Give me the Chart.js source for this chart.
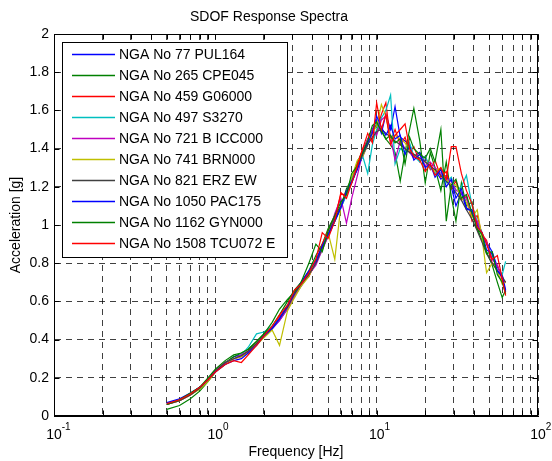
<!DOCTYPE html>
<html>
<head>
<meta charset="utf-8">
<script src="https://cdn.jsdelivr.net/npm/chart.js@4/dist/chart.umd.min.js"></script>
<style>
  html, body { margin: 0; padding: 0; background: #fff; }
</style>
</head>
<body>
<canvas id="spectra" width="552" height="461"></canvas>
<script>
  // Frequencies [Hz] at which each spectrum was sampled
  var freqHz = [
    0.5, 0.6, 0.7, 0.8, 0.9, 1.0, 1.15, 1.3,
    1.45, 1.6, 1.8, 2.0, 2.25, 2.5, 2.8, 3.1,
    3.4, 3.8, 4.2, 4.6, 5.0, 5.5, 6.0, 6.5,
    7.0, 7.6, 8.2, 8.8, 9.4, 10, 10.7, 11.4,
    12.2, 13, 14, 15, 16, 17, 18.5, 20,
    21.5, 23, 25, 27, 29, 31, 33.5, 36,
    39, 42, 45, 48, 52, 56, 60, 63
  ];

  var seriesNames = [
    "NGA No 77 PUL164", "NGA No 265 CPE045", "NGA No 459 G06000", "NGA No 497 S3270",
    "NGA No 721 B ICC000", "NGA No 741 BRN000", "NGA No 821 ERZ EW", "NGA No 1050 PAC175",
    "NGA No 1162 GYN000", "NGA No 1508 TCU072 E"
  ];

  // matlab default colour order
  var seriesColors = ["#0000ff", "#008000", "#ff0000", "#00bfbf", "#bf00bf",
                      "#bfbf00", "#404040", "#0000ff", "#008000", "#ff0000"];

  // spectral acceleration [g]
  var nga77 = [
    0.065, 0.085, 0.115, 0.15, 0.19, 0.235, 0.275, 0.31,
    0.32, 0.335, 0.375, 0.415, 0.455, 0.50, 0.56, 0.63,
    0.69, 0.75, 0.82, 0.88, 0.94, 1.02, 1.09, 1.16,
    1.22, 1.30, 1.36, 1.42, 1.50, 1.55, 1.48, 1.58,
    1.50, 1.62, 1.46, 1.44, 1.42, 1.36, 1.38, 1.33,
    1.30, 1.29, 1.24, 1.26, 1.20, 1.10, 1.17, 1.08,
    1.08, 1.01, 0.95, 0.91, 0.86, 0.78, 0.74, 0.66
  ];
  var nga265 = [
    0.035, 0.055, 0.09, 0.13, 0.18, 0.23, 0.28, 0.31,
    0.33, 0.35, 0.39, 0.43, 0.47, 0.53, 0.60, 0.66,
    0.70, 0.76, 0.84, 0.90, 0.98, 1.05, 1.10, 1.19,
    1.24, 1.33, 1.39, 1.45, 1.48, 1.53, 1.50, 1.45,
    1.42, 1.38, 1.23, 1.38, 1.50, 1.61, 1.44, 1.22,
    1.38, 1.30, 1.18, 1.33, 1.15, 1.02, 1.22, 1.10,
    1.12, 0.98, 0.92, 0.86, 0.79, 0.70, 0.62, 0.66
  ];
  var nga459 = [
    0.06, 0.08, 0.11, 0.145, 0.19, 0.24, 0.28, 0.30,
    0.31, 0.34, 0.38, 0.42, 0.47, 0.52, 0.57, 0.64,
    0.70, 0.73, 0.81, 0.90, 0.97, 1.04, 1.16, 1.16,
    1.23, 1.32, 1.40, 1.44, 1.45, 1.49, 1.58, 1.64,
    1.44, 1.50, 1.42, 1.46, 1.38, 1.41, 1.33, 1.36,
    1.29, 1.34, 1.25, 1.28, 1.19, 1.23, 1.13, 1.15,
    1.02, 1.05, 0.95, 0.92, 0.80, 0.79, 0.71, 0.70
  ];
  var nga497 = [
    0.065, 0.085, 0.115, 0.15, 0.19, 0.235, 0.28, 0.30,
    0.32, 0.36, 0.43, 0.44, 0.47, 0.51, 0.56, 0.63,
    0.68, 0.74, 0.80, 0.87, 0.95, 1.02, 1.09, 1.16,
    1.24, 1.30, 1.36, 1.27, 1.42, 1.50, 1.56, 1.60,
    1.68, 1.32, 1.40, 1.38, 1.43, 1.36, 1.33, 1.36,
    1.30, 1.27, 1.29, 1.22, 1.25, 1.18, 1.20, 1.26,
    1.10, 1.02, 0.96, 0.90, 0.84, 0.76, 0.74, 0.81
  ];
  var nga721 = [
    0.06, 0.08, 0.11, 0.145, 0.19, 0.235, 0.28, 0.30,
    0.32, 0.34, 0.37, 0.42, 0.46, 0.50, 0.56, 0.63,
    0.68, 0.74, 0.79, 0.87, 0.94, 1.06, 1.14, 1.01,
    1.14, 1.26, 1.38, 1.45, 1.50, 1.47, 1.55, 1.57,
    1.46, 1.34, 1.44, 1.40, 1.38, 1.35, 1.37, 1.31,
    1.33, 1.30, 1.27, 1.24, 1.23, 1.18, 1.17, 1.14,
    1.05, 1.02, 0.95, 0.91, 0.82, 0.79, 0.72, 0.70
  ];
  var nga741 = [
    0.06, 0.08, 0.11, 0.14, 0.18, 0.23, 0.27, 0.30,
    0.31, 0.33, 0.37, 0.41, 0.45, 0.37, 0.55, 0.62,
    0.68, 0.73, 0.82, 0.87, 0.96, 0.82, 1.10, 1.17,
    1.25, 1.34, 1.36, 1.42, 1.48, 1.52, 1.63, 1.57,
    1.45, 1.47, 1.45, 1.43, 1.39, 1.37, 1.35, 1.33,
    1.31, 1.28, 1.30, 1.24, 1.21, 1.21, 1.14, 1.12,
    1.04, 1.08, 0.93, 0.75, 0.80, 0.76, 0.69, 0.70
  ];
  var nga821 = [
    0.06, 0.08, 0.11, 0.145, 0.19, 0.235, 0.28, 0.30,
    0.315, 0.34, 0.38, 0.42, 0.46, 0.51, 0.57, 0.64,
    0.69, 0.74, 0.80, 0.88, 0.95, 1.03, 1.10, 1.17,
    1.22, 1.30, 1.37, 1.42, 1.46, 1.49, 1.50, 1.48,
    1.46, 1.44, 1.42, 1.40, 1.38, 1.37, 1.35, 1.33,
    1.31, 1.29, 1.26, 1.23, 1.20, 1.17, 1.13, 1.08,
    1.03, 0.97, 0.91, 0.85, 0.80, 0.76, 0.73, 0.70
  ];
  var nga1050 = [
    0.07, 0.09, 0.12, 0.15, 0.19, 0.23, 0.27, 0.29,
    0.30, 0.33, 0.37, 0.42, 0.46, 0.51, 0.58, 0.65,
    0.70, 0.76, 0.81, 0.89, 0.95, 1.02, 1.09, 1.18,
    1.23, 1.29, 1.38, 1.43, 1.48, 1.57, 1.51, 1.47,
    1.52, 1.45, 1.47, 1.37, 1.41, 1.34, 1.37, 1.30,
    1.32, 1.25, 1.29, 1.20, 1.24, 1.14, 1.19, 1.09,
    1.07, 0.99, 0.96, 0.87, 0.85, 0.76, 0.73, 0.65
  ];
  var nga1162 = [
    0.06, 0.085, 0.12, 0.15, 0.20, 0.245, 0.29, 0.32,
    0.33, 0.35, 0.39, 0.43, 0.49, 0.56, 0.61, 0.65,
    0.70, 0.80, 0.90, 0.86, 0.97, 1.05, 1.12, 1.16,
    1.27, 1.31, 1.38, 1.44, 1.52, 1.54, 1.49, 1.45,
    1.47, 1.43, 1.45, 1.32, 1.46, 1.40, 1.37, 1.35,
    1.40, 1.33, 1.50, 1.02, 1.21, 1.24, 1.14, 1.16,
    1.06, 0.98, 0.95, 0.85, 0.86, 0.74, 0.70, 0.64
  ];
  var nga1508 = [
    0.065, 0.085, 0.115, 0.15, 0.19, 0.23, 0.27, 0.29,
    0.28, 0.32, 0.37, 0.42, 0.47, 0.53, 0.58, 0.66,
    0.69, 0.75, 0.82, 0.96, 0.93, 1.02, 1.17, 1.14,
    1.22, 1.31, 1.40, 1.48, 1.43, 1.64, 1.50, 1.58,
    1.42, 1.47, 1.50, 1.53, 1.40, 1.36, 1.34, 1.28,
    1.32, 1.26, 1.30, 1.24, 1.41, 1.41, 1.27, 1.18,
    1.11, 0.99, 0.96, 0.90, 0.82, 0.84, 0.72, 0.63
  ];

  var seriesValues = [nga77, nga265, nga459, nga497, nga721, nga741, nga821, nga1050, nga1162, nga1508];

  // x grid / tick positions (log axis) and decade labels
  var xTickValues = [
    0.1, 0.2, 0.3, 0.4, 0.5, 0.6, 0.7, 0.8, 0.9,
    1, 2, 3, 4, 5, 6, 7, 8, 9,
    10, 20, 30, 40, 50, 60, 70, 80, 90, 100
  ];
  var xDecades = [0.1, 1, 10, 100];
  var xDecadeExponents = ["-1", "0", "1", "2"];

  var FONT = "'Liberation Sans', Arial, Helvetica, sans-serif";

  var datasets = seriesValues.map(function (vals, i) {
    return {
      label: seriesNames[i],
      data: freqHz.map(function (f, k) { return { x: f, y: vals[k] }; }),
      borderColor: seriesColors[i],
      backgroundColor: seriesColors[i],
      borderWidth: 1.2,
      pointRadius: 0,
      tension: 0,
      fill: false,
      order: seriesValues.length - i   // later series drawn on top, like matlab
    };
  });

  // box, inward ticks, decade labels and boxed legend
  var matlabAxes = {
    id: "matlabAxes",
    afterDatasetsDraw: function (chart) {
      var ctx = chart.ctx;
      var a = chart.chartArea;
      var xs = chart.scales.x;
      var ys = chart.scales.y;
      var L = Math.round(a.left) + 0.5, R = Math.round(a.right) - 0.5;
      var T = Math.round(a.top) + 0.5, B = Math.round(a.bottom) - 0.5;

      ctx.save();
      ctx.strokeStyle = "#000";
      ctx.lineWidth = 1;
      ctx.beginPath();
      xTickValues.forEach(function (v) {
        var px = Math.round(xs.getPixelForValue(v)) + 0.5;
        ctx.moveTo(px, B); ctx.lineTo(px, B - 5);
        ctx.moveTo(px, T); ctx.lineTo(px, T + 5);
      });
      ys.ticks.forEach(function (t) {
        var py = Math.round(ys.getPixelForValue(t.value)) + 0.5;
        ctx.moveTo(L, py); ctx.lineTo(L + 5, py);
        ctx.moveTo(R, py); ctx.lineTo(R - 5, py);
      });
      ctx.stroke();
      ctx.strokeRect(L, T, R - L, B - T);

      // decade labels 10^n
      ctx.fillStyle = "#000";
      ctx.textBaseline = "alphabetic";
      xDecades.forEach(function (v, i) {
        var px = xs.getPixelForValue(v);
        ctx.font = "14px " + FONT;
        ctx.textAlign = "center";
        ctx.fillText("10", px, a.bottom + 23);
        var w = ctx.measureText("10").width;
        ctx.font = "10px " + FONT;
        ctx.textAlign = "left";
        ctx.fillText(xDecadeExponents[i], px + w / 2, a.bottom + 14);
      });

      // legend
      var lx = a.left + 8, ly = a.top + 8, lw = 225, lh = 215;
      ctx.fillStyle = "#fff";
      ctx.fillRect(lx, ly, lw, lh);
      ctx.strokeStyle = "#000";
      ctx.strokeRect(Math.round(lx) + 0.5, Math.round(ly) + 0.5, lw, lh);
      ctx.font = "14px " + FONT;
      ctx.textAlign = "left";
      ctx.textBaseline = "middle";
      ctx.lineWidth = 1.5;
      chart.data.datasets.forEach(function (ds, i) {
        var ry = ly + 12.5 + i * 21;
        ctx.strokeStyle = ds.borderColor;
        ctx.beginPath();
        ctx.moveTo(lx + 10, ry);
        ctx.lineTo(lx + 53, ry);
        ctx.stroke();
        ctx.fillStyle = "#000";
        ctx.fillText(ds.label, lx + 57, ry + 1);
      });
      ctx.restore();
    }
  };

  new Chart(document.getElementById("spectra"), {
    type: "line",
    data: { datasets: datasets },
    options: {
      responsive: false,
      animation: false,
      devicePixelRatio: 1,
      layout: { padding: { left: 0, right: 14, top: 0, bottom: 0 } },
      plugins: {
        legend: { display: false },
        tooltip: { enabled: false },
        title: {
          display: true,
          text: "SDOF Response Spectra",
          color: "#000",
          font: { family: FONT, size: 14, weight: "normal" },
          padding: { top: 9, bottom: 8.2 }
        }
      },
      scales: {
        x: {
          type: "logarithmic",
          min: 0.1,
          max: 100,
          afterBuildTicks: function (scale) {
            scale.ticks = xTickValues.map(function (v) { return { value: v }; });
          },
          afterFit: function (scale) { scale.height = 45; },
          ticks: { display: false, autoSkip: false },
          grid: { color: "rgba(0,0,0,0.75)", lineWidth: 1, drawTicks: false },
          border: { display: true, color: "#000", dash: [6, 5] },
          title: {
            display: true,
            text: "Frequency [Hz]",
            color: "#000",
            font: { family: FONT, size: 14 },
            padding: { top: 9, bottom: 0 }
          }
        },
        y: {
          min: 0,
          max: 2,
          afterFit: function (scale) { scale.width = 54; },
          ticks: {
            stepSize: 0.2,
            color: "#000",
            padding: 5,
            font: { family: FONT, size: 14 },
            callback: function (v) { return String(Number(v.toFixed(1))); }
          },
          grid: { color: "rgba(0,0,0,0.75)", lineWidth: 1, drawTicks: false },
          border: { display: true, color: "#000", dash: [6, 5] },
          title: {
            display: true,
            text: "Acceleration [g]",
            color: "#000",
            font: { family: FONT, size: 14 },
            padding: { top: 8, bottom: 0 }
          }
        }
      }
    },
    plugins: [matlabAxes]
  });
</script>
</body>
</html>
